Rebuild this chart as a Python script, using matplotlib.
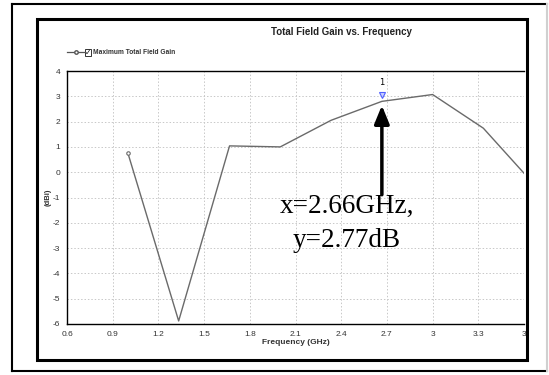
import matplotlib
matplotlib.use("Agg")
import matplotlib.pyplot as plt
from matplotlib.patches import Rectangle
from matplotlib.lines import Line2D

# values
freq = [1.0, 1.333, 1.667, 2.0, 2.333, 2.667, 3.0, 3.333, 3.6]
gain = [0.75, -5.88, 1.04, 1.0, 2.05, 2.8, 3.07, 1.74, -0.04]
x_ticks = [0.6, 0.9, 1.2, 1.5, 1.8, 2.1, 2.4, 2.7, 3.0, 3.3, 3.6]
x_labels = ["0.6", "0.9", "1.2", "1.5", "1.8", "2.1", "2.4", "2.7", "3", "3.3", "3"]
y_ticks = [4, 3, 2, 1, 0, -1, -2, -3, -4, -5, -6]
marker_x, marker_y = 2.667, 2.8

narrow = ["Liberation Sans Narrow", "Liberation Sans", "DejaVu Sans"]

fig = plt.figure(figsize=(5.49, 3.75), dpi=100)
W, H = 549, 375

def fx(px):
    return px / W

def fy(py):
    return 1 - py / H

# outer frame (right edge is light grey in the reference)
for xs, ys, c in [([12, 12], [4, 371], "black"), ([12, 547], [4, 4], "black"),
                  ([12, 547], [371, 371], "black"), ([547, 547], [4, 371], "#d0d0d0")]:
    fig.add_artist(Line2D([fx(v) for v in xs], [fy(v) for v in ys], color=c,
                          linewidth=1.5, transform=fig.transFigure))
# inner frame
fig.patches.append(Rectangle((fx(37), fy(360)), fx(490), 341 / H, transform=fig.transFigure,
                             fill=False, edgecolor="black", linewidth=2.2, zorder=5))

ax = fig.add_axes([fx(67), fy(324), fx(524 - 67), (324 - 71) / H])
ax.plot(freq, gain, color="#6a6a6a", linewidth=1.0)
ax.plot(freq[0], gain[0], marker="o", markersize=2.5, color="#6a6a6a",
        markerfacecolor="white", markeredgewidth=0.8)
ax.plot(marker_x, marker_y + 0.25, marker="v", markersize=4, color="#5060ff",
        markerfacecolor="#c8d0ff", markeredgewidth=0.8)
ax.text(marker_x, marker_y + 0.55, "1", ha="center", va="bottom", fontsize=6)

ax.set_xlim(0.6, 3.6)
ax.set_ylim(-6, 4)
ax.set_xticks(x_ticks)
ax.set_xticklabels(x_labels, fontsize=6, color="#333333", family=narrow)
ax.set_yticks(y_ticks)
ax.set_yticklabels([str(v) for v in y_ticks], fontsize=6, color="#333333", family=narrow)
ax.tick_params(length=0, pad=5)
ax.grid(True, linestyle=(0, (1.5, 2)), color="#c8c8c8", linewidth=0.7)
ax.spines["right"].set_visible(False)
for s in ["top", "bottom", "left"]:
    ax.spines[s].set_linewidth(1.0)
ax.set_xlabel("Frequency (GHz)", fontsize=6, fontweight="bold", labelpad=1,
              color="#333333", family=narrow)
ax.set_ylabel("(dBi)", fontsize=5.5, fontweight="bold", labelpad=1,
              color="#333333", family=narrow)

# annotation arrow and text
ax.annotate("", xy=(marker_x, marker_y - 0.05), xytext=(marker_x, -1.0),
            arrowprops=dict(arrowstyle="-|>,head_width=0.45,head_length=1.1",
                            color="black", linewidth=2.5))
ax.text(2.435, -1.37, "x=2.66GHz,", fontsize=19.5, family="Liberation Serif",
        ha="center", va="center")
ax.text(2.435, -2.69, "y=2.77dB", fontsize=19.5, family="Liberation Serif",
        ha="center", va="center")

# title and legend
fig.text(fx(341), fy(32), "Total Field Gain vs. Frequency", ha="center", va="center",
         fontsize=7, fontweight="bold", color="#222222", family=narrow)
fig.add_artist(Line2D([fx(67), fx(85)], [fy(52), fy(52)], color="#555555", linewidth=0.9,
                      transform=fig.transFigure))
fig.add_artist(Line2D([fx(76)], [fy(52)], marker="o", markersize=2.5, color="#555555",
                      markerfacecolor="white", transform=fig.transFigure))
fig.patches.append(Rectangle((fx(85), fy(55.5)), fx(6), 6 / H, transform=fig.transFigure,
                             facecolor="white", edgecolor="#333333", linewidth=0.7))
fig.text(fx(88), fy(52.3), "\u2713", ha="center", va="center", fontsize=5.5, color="#111111")
fig.text(fx(93), fy(52), "Maximum Total Field Gain", ha="left", va="center",
         fontsize=4.8, fontweight="bold", color="#333333", family=narrow)

fig.savefig("out.png", dpi=100, facecolor="white")
